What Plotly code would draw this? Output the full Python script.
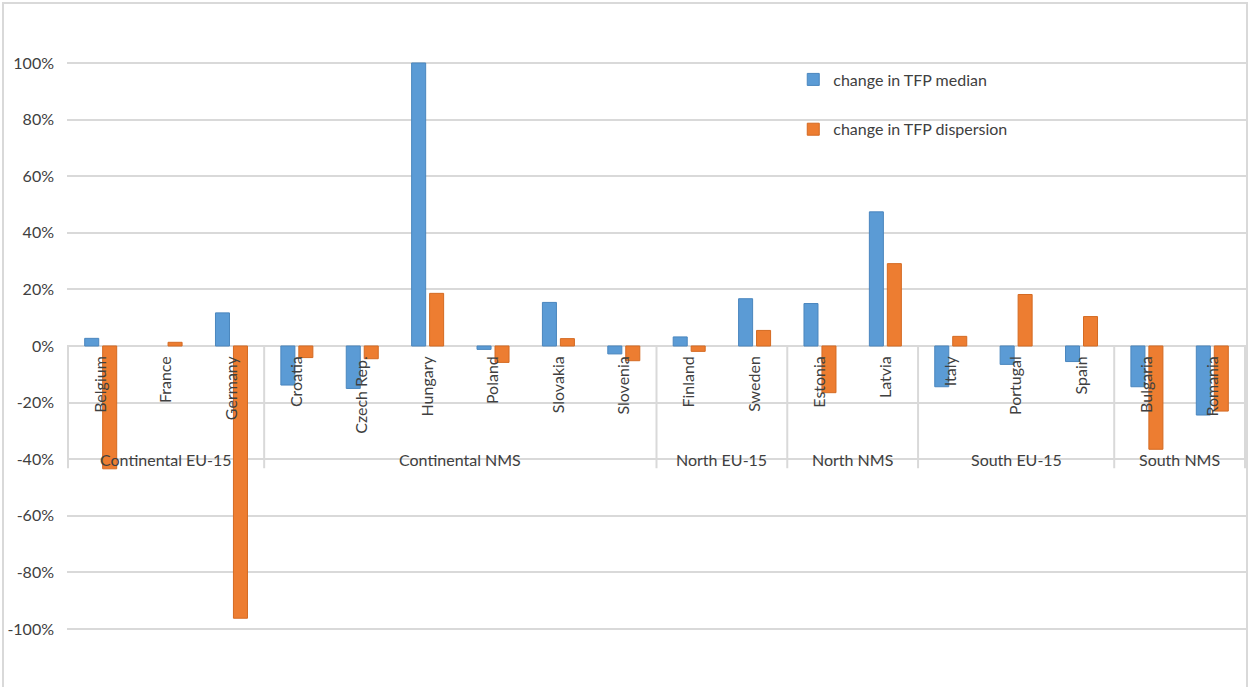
import plotly.graph_objects as go

countries = ["Belgium", "France", "Germany", "Croatia", "Czech Rep.", "Hungary", "Poland",
             "Slovakia", "Slovenia", "Finland", "Sweden", "Estonia", "Latvia", "Italy",
             "Portugal", "Spain", "Bulgaria", "Romania"]
tfp_median = [0.027, None, 0.117, -0.138, -0.150, 1.00, -0.012, 0.154, -0.028, 0.032,
              0.167, 0.150, 0.474, -0.144, -0.065, -0.055, -0.144, -0.244]
tfp_dispersion = [-0.434, 0.013, -0.962, -0.041, -0.045, 0.186, -0.058, 0.026, -0.052,
                  -0.019, 0.055, -0.165, 0.291, 0.034, 0.182, 0.104, -0.365, -0.230]
groups = ["Continental EU-15", "Continental NMS", "North EU-15", "North NMS",
          "South EU-15", "South NMS"]
group_sizes = [3, 6, 2, 2, 3, 2]
y_ticks = [1.0, 0.8, 0.6, 0.4, 0.2, 0.0, -0.2, -0.4, -0.6, -0.8, -1.0]
y_tick_text = ["100%", "80%", "60%", "40%", "20%", "0%", "-20%", "-40%", "-60%", "-80%", "-100%"]

BLUE = "#5B9BD5"
ORANGE = "#ED7D31"
GRID = "#D9D9D9"
TEXT = "#404040"
FONT = "Lato, 'Open Sans', sans-serif"

Y_MIN, Y_MAX = -1.205, 1.2226

fig = go.Figure()
fig.add_trace(go.Bar(
    x=countries, y=tfp_median, name="change in TFP median", legendgroup="m",
    marker=dict(color=BLUE, line=dict(color="#4A86BE", width=1)),
))
fig.add_trace(go.Bar(
    x=countries, y=tfp_dispersion, name="change in TFP dispersion", legendgroup="d",
    marker=dict(color=ORANGE, line=dict(color="#D46A22", width=1)),
))

shapes = []
# group separators below the zero line
edge = -0.5
bounds = [edge]
for n in group_sizes:
    edge += n
    bounds.append(edge)
for b in bounds:
    shapes.append(dict(type="line", xref="x", yref="y", x0=b, x1=b, y0=0, y1=-0.432,
                       line=dict(color=GRID, width=2), layer="below"))
# chart frame
shapes.append(dict(type="rect", xref="paper", yref="paper",
                   x0=(3 - 67) / 1179, x1=(1247 - 67) / 1179, y0=-0.02, y1=(687 - 3) / 687,
                   line=dict(color="#D9D9D9", width=2), fillcolor="rgba(0,0,0,0)"))

annotations = []
start = 0
for g, n in zip(groups, group_sizes):
    center = start + (n - 1) / 2
    annotations.append(dict(x=center, y=-0.40, xref="x", yref="y", text=g, showarrow=False,
                            font=dict(family=FONT, size=16, color=TEXT),
                            xanchor="center", yanchor="middle"))
    start += n

zero_pos = (0 - Y_MIN) / (Y_MAX - Y_MIN)

fig.update_layout(
    width=1250, height=687,
    margin=dict(l=67, r=4, t=0, b=0),
    paper_bgcolor="white", plot_bgcolor="white",
    barmode="group", bargap=0.45, bargroupgap=0.22,
    font=dict(family=FONT, size=16, color=TEXT),
    showlegend=True,
    legend=dict(x=0.616, y=0.909, xanchor="left", yanchor="top",
                bgcolor="rgba(0,0,0,0)", tracegroupgap=26,
                font=dict(family=FONT, size=16, color=TEXT)),
    xaxis=dict(type="category", anchor="free", position=zero_pos,
               showgrid=False, showline=False, zeroline=False, ticks="",
               tickangle=-90, ticklabelstandoff=6,
               tickfont=dict(family=FONT, size=16, color=TEXT)),
    yaxis=dict(range=[Y_MIN, Y_MAX], tickvals=y_ticks, ticktext=y_tick_text,
               showgrid=True, gridcolor=GRID, gridwidth=2,
               zeroline=True, zerolinecolor=GRID, zerolinewidth=2,
               showline=False, ticks="", ticklabelstandoff=12,
               tickfont=dict(family=FONT, size=16, color=TEXT)),
    shapes=shapes,
    annotations=annotations,
)

fig.write_html("out.html")
